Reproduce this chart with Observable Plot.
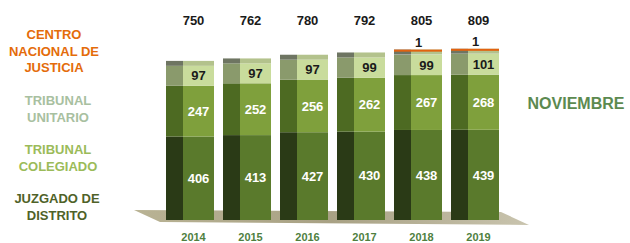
<!DOCTYPE html>
<html>
<head>
<meta charset="utf-8">
<script src="https://cdn.jsdelivr.net/npm/d3@7"></script>
<script src="https://cdn.jsdelivr.net/npm/@observablehq/plot@0.6"></script>
<style>
  html, body { margin: 0; padding: 0; background: #fff; }
  #wrap { position: relative; width: 630px; height: 243px; font-family: "Liberation Sans", Arial, sans-serif; }
  #chart { position: absolute; left: 0; top: 0; }
  .leg { position: absolute; width: 112px; text-align: center; font-weight: bold; font-size: 13px; line-height: 16.5px; }
  #month { position: absolute; left: 520px; top: 95px; width: 112px; text-align: center; font-weight: bold; font-size: 16px; color: #5c8a50; }
</style>
</head>
<body>
<div id="wrap">
  <div id="chart"></div>
  <div class="leg" style="left:-2px; top:27px; color:#e46c0a;">CENTRO<br>NACIONAL DE<br>JUSTICIA</div>
  <div class="leg" style="left:2px; top:93px; color:#a8c0a0;">TRIBUNAL<br>UNITARIO</div>
  <div class="leg" style="left:2px; top:142px; color:#9bbb59;">TRIBUNAL<br>COLEGIADO</div>
  <div class="leg" style="left:1px; top:191px; color:#4f6228;">JUZGADO DE<br>DISTRITO</div>
  <div id="month">NOVIEMBRE</div>
</div>
<script>
const years = ["2014", "2015", "2016", "2017", "2018", "2019"];
const seriesNames = ["JUZGADO DE DISTRITO", "TRIBUNAL COLEGIADO", "TRIBUNAL UNITARIO", "CENTRO NACIONAL DE JUSTICIA"];
const distrito = [406, 413, 427, 430, 438, 439];
const colegiado = [247, 252, 256, 262, 267, 268];
const unitario = [97, 97, 97, 99, 99, 101];
const cnj = [0, 0, 0, 0, 1, 1];
const totals = [750, 762, 780, 792, 805, 809];

const frontColors = ["#5a7a2c", "#7fa03c", "#c9dc9c", "#e2620f"];
const sideColors = ["#2a3a16", "#4d6a22", "#8a9a6c", "#b04a0a"];
const labelColors = ["#ffffff", "#ffffff", "#1a1a1a", "#1a1a1a"];

const seriesValues = [distrito, colegiado, unitario, cnj];
const rows = [];
years.forEach((yr, i) => {
  let base = 0;
  seriesValues.forEach((arr, s) => {
    const v = arr[i];
    rows.push({year: yr, s, series: seriesNames[s], value: v, y1: base, y2: base + v, mid: base + v / 2});
    base += v;
  });
});
const tops = years.map((yr, i) => ({year: yr, top: distrito[i] + colegiado[i] + unitario[i] + cnj[i], cnj: cnj[i], total: totals[i]}));

const capH = 24;
const bold = "bold";

const floor = (index, scales, values, dimensions) => {
  const x = scales.x, y = scales.y;
  const bw = x.bandwidth();
  const x0 = x(years[0]) - 32;
  const x1 = x(years[years.length - 1]) + bw;
  const y0 = y(0);
  const ns = "http://www.w3.org/2000/svg";
  const g = document.createElementNS(ns, "g");
  const defs = document.createElementNS(ns, "defs");
  defs.innerHTML = `<linearGradient id="fl" x1="0" x2="1" y1="0" y2="0"><stop offset="0" stop-color="#b9b394"/><stop offset="0.5" stop-color="#a8a184"/><stop offset="1" stop-color="#c9c4ae"/></linearGradient>`;
  g.appendChild(defs);
  const p = document.createElementNS(ns, "polygon");
  p.setAttribute("points", `${x0},${y0 - 10} ${x1 + 2},${y0 - 8} ${x1 + 30},${y0 + 5} ${x0 + 26},${y0 + 2}`);
  p.setAttribute("fill", "url(#fl)");
  g.appendChild(p);
  return g;
};

const barRows = rows.filter(d => d.s < 3);

const chart = Plot.plot({
  width: 630,
  height: 243,
  marginLeft: 155,
  marginRight: 121,
  marginTop: 35,
  marginBottom: 23,
  style: {fontFamily: "Liberation Sans, Arial, sans-serif", background: "transparent"},
  x: {domain: years, padding: 0.165, axis: null},
  y: {domain: [0, 900], axis: null},
  color: {type: "identity"},
  marks: [
    floor,
    Plot.rectY(barRows, {x: "year", y1: "y1", y2: "y2", fill: d => sideColors[d.s], insetRight: 31}),
    Plot.rectY(barRows, {x: "year", y1: "y1", y2: "y2", fill: d => frontColors[d.s], insetLeft: 17}),
    Plot.rectY(tops, {x: "year", y1: "top", y2: d => d.top + capH, fill: "#6e7562", insetRight: 31}),
    Plot.rectY(tops, {x: "year", y1: "top", y2: d => d.top + capH, fill: "#b3c28c", insetLeft: 17}),
    Plot.rectY(tops.filter(d => d.cnj > 0), {x: "year", y1: d => d.top + capH - 10, y2: d => d.top + capH, fill: "#e2620f"}),
    Plot.text(barRows, {x: "year", y: "mid", text: d => String(d.value), fill: d => labelColors[d.s], fontSize: 13, fontWeight: bold, dx: 8}),
    Plot.text(rows.filter(d => d.s === 3 && d.value > 0), {x: "year", y: "y2", text: d => String(d.value), fill: "#1a1a1a", fontSize: 13, fontWeight: bold, dy: -12}),
    Plot.text(tops, {x: "year", text: d => String(d.total), frameAnchor: "top", dy: -20, dx: 3, fill: "#1a1a1a", fontSize: 13, fontWeight: bold}),
    Plot.axisX({tickSize: 0, tickPadding: 13, fontSize: 11, fontWeight: bold, fill: "#4f7f3f", dx: 3, label: null})
  ]
});
document.getElementById("chart").appendChild(chart);
</script>
</body>
</html>
